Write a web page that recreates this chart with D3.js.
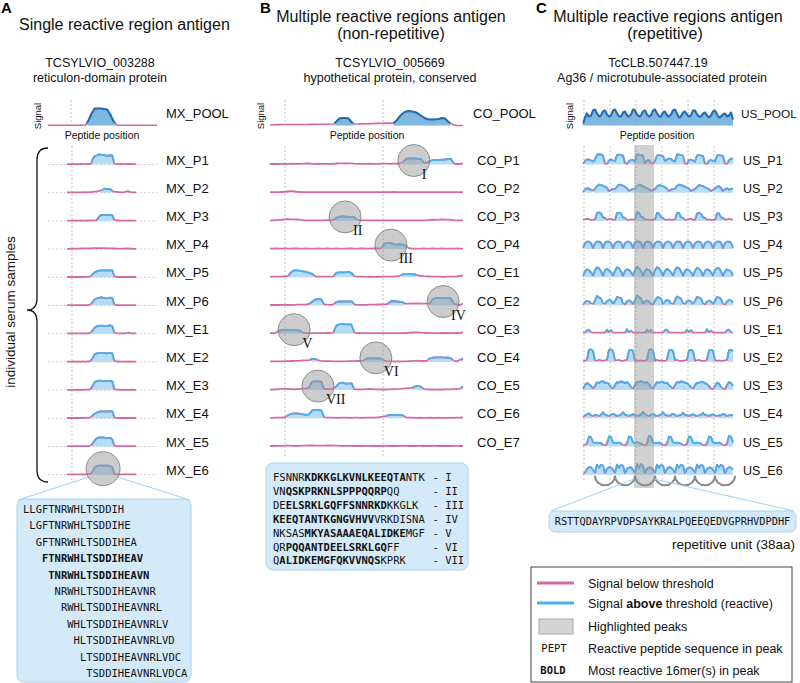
<!DOCTYPE html>
<html><head><meta charset="utf-8">
<script src="https://cdn.jsdelivr.net/npm/d3@7"></script>
<style>body{margin:0;background:#fff}svg{display:block}</style>
</head><body>
<svg id="fig" width="800" height="683"></svg>
<script>
// ---------------- DATA ----------------
const mxLabels = ["MX_P1","MX_P2","MX_P3","MX_P4","MX_P5","MX_P6","MX_E1","MX_E2","MX_E3","MX_E4","MX_E5","MX_E6"];
const mxPool = [0.3,0.3,0.3,0.3,0.3,0.3,0.3,0.3,0.3,0.3,0.3,0.3,0.5,5,12,17,17,17,16.5,16,11,4.5,0.5,0.3,0.3,0.3,0.3,0.3,0.3,0.3,0.3,0.3,0.3,0.3,0.3,0.3];
const mxSamples = [
 [0.3,0.4,0.3,0.5,0.4,0.3,0.4,0.5,0.4,0.3,0.4,0.5,0.6,5,8.5,9,10,10,9.5,9.5,8.7,9,9.2,9,1,0.4,0.3,0.5,0.4,0.3,0.4,0.5,0.6,0.5,0.4,0.3],
 [0.3,0.3,0.4,0.3,0.4,0.3,0.4,0.3,0.4,0.5,0.4,0.5,0.6,0.8,1,1.2,1.5,2,3,4,3.5,3.8,3.5,1.5,1,0.8,0.6,0.5,0.4,0.5,1,1.5,0.8,0.5,0.4,0.3],
 [0.3,0.3,0.3,0.4,0.3,0.3,0.3,0.4,0.3,0.3,0.4,0.3,0.4,0.5,0.5,0.6,3.5,5.5,6,6,5.8,6,6,5.5,1,0.5,0.4,0.3,0.3,0.3,0.3,0.3,0.4,0.3,0.3,0.3],
 [0.3,0.3,0.3,0.4,0.4,0.5,0.5,0.6,0.6,0.7,0.7,0.8,0.8,0.9,0.9,1,1,1,0.9,0.9,0.8,0.8,0.8,0.7,0.6,0.5,0.5,0.4,0.4,0.5,0.7,0.6,0.5,0.4,0.3,0.3],
 [0.3,0.3,0.3,0.3,0.3,0.3,0.3,0.3,0.3,0.4,0.4,0.5,1,3,5,6,6.5,7,7,7,7,6.8,7,7,1,0.4,0.3,0.3,0.3,0.3,0.3,0.3,0.3,0.3,0.3,0.3],
 [0.3,0.3,0.3,0.3,0.4,0.3,0.3,0.4,0.3,0.4,0.4,0.5,1,3.5,6,7,7.5,8,8,7.5,7,7.5,8,7.5,1,0.5,0.4,0.3,0.3,0.3,0.3,0.3,0.3,0.3,0.3,0.3],
 [0.3,0.3,0.3,0.3,0.3,0.3,0.4,0.3,0.3,0.4,0.4,0.5,1,3.5,6,7.5,7.5,8,8,7.5,7.5,8,8.5,7.5,1,0.5,0.4,0.3,0.3,0.3,0.5,1.2,0.6,0.3,0.3,0.3],
 [0.3,0.3,0.3,0.4,0.3,0.3,0.3,0.3,0.4,0.3,0.4,0.5,1,4,7.5,8.5,9,9,9,8.8,8.5,8.8,9,8.5,1,0.5,0.4,0.3,0.3,0.3,0.3,0.4,0.3,0.3,0.3,0.3],
 [0.3,0.3,0.3,0.3,0.3,0.4,0.3,0.3,0.3,0.4,0.4,0.5,1,4,8,9,9.5,9.5,9,9,9,9,9.2,8.5,1,0.5,0.4,0.3,0.3,0.3,0.3,0.3,0.3,0.4,0.3,0.3],
 [0.3,0.3,0.3,0.3,0.3,0.3,0.3,0.3,0.3,0.4,0.4,0.5,1,3,4.5,5.5,6.5,7,7,7,6.8,7,7.2,7,1,0.4,0.3,0.3,0.3,0.3,0.3,0.3,0.3,0.3,0.3,0.3],
 [0.3,0.3,0.3,0.3,0.3,0.3,0.3,0.3,0.3,0.4,0.4,0.5,1,3,6,8,9,9,9,8.8,8.5,8.5,8.5,7,1,0.4,0.3,0.3,0.3,0.3,0.3,0.3,0.3,0.3,0.3,0.3],
 [0.3,0.3,0.3,0.3,0.3,0.3,0.3,0.3,0.3,0.4,0.4,0.5,1,3.5,7,8.5,9,9,9,9,9,9,8.5,7.5,1,0.4,0.3,0.3,0.3,0.3,0.3,0.3,0.3,0.3,0.3,0.3]
];
const mxGrid = [2.5];
const mxPoolGrid = [7.4];
const mxPeak = {row: 11, at: 18.3};
const mxSeqs = ["LLGFTNRWHLTSDDIH","LGFTNRWHLTSDDIHE","GFTNRWHLTSDDIHEA","FTNRWHLTSDDIHEAV","TNRWHLTSDDIHEAVN","NRWHLTSDDIHEAVNR","RWHLTSDDIHEAVNRL","WHLTSDDIHEAVNRLV","HLTSDDIHEAVNRLVD","LTSDDIHEAVNRLVDC","TSDDIHEAVNRLVDCA"];
const mxSeqBold = [false,false,false,true,true,false,false,false,false,false,false];

const coLabels = ["CO_P1","CO_P2","CO_P3","CO_P4","CO_E1","CO_E2","CO_E3","CO_E4","CO_E5","CO_E6","CO_E7"];
const coPool = [0.8,0.8,0.9,0.9,1,1,1,1,1,1, 1,1,1,1.1,1.1,1.2,1.2,1.2,1.3,1.3, 1.3,1.5,4,7,7.5,7.5,7,3.5,1.5,1.5, 1.6,1.7,1.8,1.9,2,2.1,2.2,2.3,2.4,2.4, 2.4,2.4,5,9,12,14,14.5,14,13.5,12, 10,8,6.5,6,6,6.2,6.5,7.5,7,4, 2,0.5,0,0,0];
const coSamples = [
 [0.5,0.6,0.5,0.7,0.6,0.5,0.6,0.8,0.7,0.6, 0.7,0.8,1.2,1,0.7,0.6,0.5,0.6,0.7,0.6, 0.6,0.7,1,1.2,1.1,1,1.2,1.1,0.8,0.7, 0.6,0.6,0.7,0.8,0.7,0.6,0.7,0.8,0.9,0.8, 0.7,0.8,0.9,1,2,5.5,6,6,6,5.5, 5.5,2,1.5,3.5,4.5,4.5,4.5,4.8,5,5.5, 5.5,1,0.5,0.5,1],
 [0.5,0.5,0.6,0.6,0.7,0.8,1.2,1.6,1.2,0.8, 0.7,0.6,0.6,0.5,0.5,0.6,0.6,0.5,0.5,0.6, 0.5,0.5,0.6,0.6,0.5,0.5,0.5,0.6,0.5,0.5, 0.5,0.6,0.5,0.5,0.6,0.6,0.5,0.5,0.6,0.6, 0.6,0.7,0.6,0.5,0.5,0.6,0.5,0.5,0.6,0.6, 0.5,0.5,0.6,0.5,0.5,0.5,0.6,0.5,0.5,0.5, 0.5,0.5,0.6,0.6,0.5],
 [0.5,0.6,0.8,1,1.3,1.6,1.7,1.5,1.6,1.4, 1,0.7,0.6,0.5,0.5,0.6,0.6,0.5,0.6,0.7, 0.8,1,3,4.3,4.5,4.3,4,4,3.5,1, 0.7,0.6,0.5,0.6,0.5,0.5,0.6,0.6,0.5,0.5, 0.6,0.5,0.5,0.6,0.5,0.5,0.5,0.6,0.5,0.5, 0.6,0.5,0.7,1,1.3,1.1,1.3,1.4,1.2,1.3, 1,0.7,0.6,0.5,0.5],
 [0.5,0.5,0.6,0.5,0.5,0.6,0.5,0.5,0.6,0.6, 0.5,0.5,0.6,0.5,0.5,0.5,0.6,0.5,0.5,0.6, 0.5,0.5,0.6,0.5,0.5,0.5,0.6,0.6,0.5,0.5, 0.6,0.6,0.5,0.5,0.6,0.6,0.7,1,5.5,6, 6,5,4.5,5,4.5,3.5,1,0.6,0.5,0.5, 0.5,0.6,0.5,0.5,0.6,0.5,0.5,0.6,0.5,0.5, 0.5,0.5,0.6,0.5,0.5],
 [0.5,0.6,0.6,0.7,0.8,1,1.5,5,7,7, 6.5,6,5.5,4.5,3.5,1,0.7,0.6,0.6,0.6, 0.7,1,4.5,5,5,5,5.5,4.5,1,0.7, 0.6,0.6,0.5,0.6,0.5,0.5,0.6,0.5,0.6,0.6, 0.7,0.8,1,1.5,3,3.2,3.2,3.2,3,1.8, 1.5,1.2,1,0.8,0.7,0.6,0.6,0.5,0.5,0.6, 0.6,0.7,0.8,1.5,2],
 [0.5,0.5,0.6,0.5,0.6,0.6,0.5,0.6,0.7,0.8, 0.8,0.9,1,1.5,4,6,6.5,6,1,0.8, 0.7,1,3.5,4,4,4,4,4.3,1,0.7, 0.6,0.6,0.7,0.8,0.8,0.9,1,1,1.2,1.5, 4,4.5,4,3.5,3.3,1.8,1.8,1.9,2,2, 1.8,1.9,1.8,2,6.5,7.5,7.5,7.5,7.5,7.5, 7,1.5,1,0.5,2],
 [0.5,0.6,1,3,3.5,3.5,3.5,3.6,3.6,3.4, 3,1,0.7,0.6,0.5,0.6,0.5,0.6,0.6,0.7, 0.8,1,8,9.5,9.5,9.3,9.3,9,1,0.6, 0.5,0.5,0.6,0.5,0.6,0.6,0.5,0.6,0.5,0.5, 0.6,0.5,0.5,0.6,0.6,0.7,0.8,1.2,1.3,1.2, 1,0.8,0.7,0.6,0.6,0.5,0.6,0.7,0.8,0.7, 0.6,0.6,0.7,0.8,1.2],
 [0.5,0.5,0.6,0.5,0.6,0.7,0.8,0.9,1,1, 1.2,1.5,1.5,1.8,3,3,1.5,1,0.8,0.7, 0.7,0.6,0.6,0.5,0.6,0.6,0.7,0.7,0.8,0.9, 1,1.2,3.3,3.5,3.5,3.5,3.4,3.3,1,0.7, 0.6,0.6,0.5,0.5,0.6,0.6,0.7,0.8,1,1.2, 1.1,0.9,1,3.5,4.3,4.5,4.5,4.5,4.3,4.5, 3.5,1,0.5,2,3.2],
 [0.5,0.6,0.8,1,1.2,1.2,1,0.9,0.8,1, 1.2,1.4,1.5,3,8.5,8.7,8.7,8.5,1,1.2, 1,1.5,4,7,7.5,6.5,6.5,7,1,0.8, 0.7,0.8,1,1.2,1,0.8,0.7,0.6,0.6,0.7, 0.8,0.9,1,1.2,1.5,1.8,2,2.2,3.5,4.3, 3.5,1,0.7,0.6,0.6,0.5,0.6,0.6,0.7,0.8, 0.8,0.9,1,1.5,3.3],
 [0.5,0.5,0.6,0.7,0.8,1,3,4.5,5,5, 4.5,4,3.5,4,8,8.5,8.3,8,1,0.7, 0.6,0.6,0.5,0.5,0.6,0.6,0.5,0.5,0.6,0.6, 0.5,0.5,0.6,0.6,0.7,0.8,1,1.5,2,3, 3.5,3.5,3.5,3.5,3,1,0.7,0.6,0.5,0.5, 0.6,0.5,0.5,0.6,0.5,0.5,0.6,0.5,0.5,0.5, 0.5,0.5,0.6,0.6,0.8],
 [0.5,0.5,0.6,0.6,0.7,0.8,0.8,0.7,0.6,0.6, 0.7,0.8,0.9,1,1,0.9,0.8,0.8,0.9,1, 1,0.9,0.8,0.7,0.7,0.6,0.6,0.6,0.5,0.5, 0.5,0.5,0.6,0.6,0.5,0.5,0.5,0.5,0.6,0.6, 0.5,0.5,0.5,0.6,0.6,0.6,0.5,0.5,0.5,0.6, 0.6,0.5,0.5,0.5,0.6,0.6,0.5,0.5,0.5,0.5, 0.5,0.6,0.6,0.5,0.5]
];
const coGrid = [5, 37.5];
const coPeaks = [
 {row:0, at:47.7, label:"I"}, {row:2, at:24.9, label:"II"}, {row:3, at:40.1, label:"III"},
 {row:5, at:57.4, label:"IV"}, {row:6, at:8, label:"V"}, {row:7, at:35.1, label:"VI"}, {row:8, at:15.9, label:"VII"}
];
const coSeqPre  = ["FSNNR","VN","DE","","NKSAS","QR","Q"];
const coSeqBold = ["KDKKGLKVNLKEEQTA","QSKPRKNLSPPPQQRP","ELSRKLGQFFSNNRKD","KEEQTANTKGNGVHVV","MKYASAAAEQALIDKE","PQQANTDEELSRKLGQ","ALIDKEMGFQKVVNQS"];
const coSeqPost = ["NTK","QQ","KKGLK","VRKDISNA","MGF","FF","KPRK"];
const coSeqNum  = ["I","II","III","IV","V","VI","VII"];

const usLabels = ["US_P1","US_P2","US_P3","US_P4","US_P5","US_P6","US_E1","US_E2","US_E3","US_E4","US_E5","US_E6"];
const usPool = [1,8,12,9,10,15,16,12,9,10, 14,15,11,9,10,15,16,12,9,9, 13,14,10,9,11,16,15,11,9,10, 14,15,11,9,10,15,16,12,9,9, 13,14,10,9,11,15,16,12,8,9, 13,14,11,9,10,15,15,11,9,9, 12,13,10,8,10,14,15,11,8,9, 11,12,9,10,13,6];
const usSamples = [
 [0.5,3.5,5,5,4,3,5,10,10,10, 9,1,0.5,4,5,4,3.5,9.5,10,9.5, 9,1.5,0.5,3.5,4.5,4.5,3,10,10,9, 9,1,4,4.5,1,1,3.5,9,9.5,9, 8.5,3.5,5,6,5.5,3.5,3,10,10,9.5, 9,1,0.5,4.5,5,4,3,9,9.5,9, 8.5,1,0.5,4,4.5,3.5,3,9,9.5,9, 8.5,1,0.5,4,6,5],
 [0.5,3.5,4.5,4,3,2,4,6.5,8,7.5, 7,6,5,1.5,3,3.5,3.5,6,8,7.5, 7,6,4.5,1.5,3,3.5,4,7,8,7.5, 6.5,5.5,4.5,3.5,1.5,3,3.5,6.5,7.5,7, 6.5,5.5,4,1.5,3,3.5,4,7,8,7.5, 7,6,5,4,1.5,3,3.5,6,7.5,7, 6.5,5.5,4.5,3.5,1.5,3,4,6,6.5,5, 1.5,3.5,4.5,3,4,3.5],
 [1,1.5,2,1.5,1,1,1.5,8,8.5,7.5, 3.5,3,1,1.5,2,1,1,8,8,7.5, 3.5,3,1,1,1.5,1,1.5,8.5,8,4, 3.5,1,1.5,1,1,1,1.5,8,7.5,3.5, 3,1,1,1.5,1,1,1.5,8,8,3.5, 3,1,1,1.5,2,1,1,7.5,8,7, 3.5,3,1,1.5,1,1,1,7.5,7.5,3.5, 3,1,1.5,2,1.5,1],
 [1,6,7.5,7.5,6,1,6,7.5,7.5,6.5, 1,6.5,7.5,7.5,6,1,6,7.5,7.5,6.5, 1,6,7.5,7.5,6,1,6.5,7.5,7.5,6.5, 1,6.5,7.5,7.5,6,1,6,7.5,7.5,6.5, 1,6,7.5,7.5,6,1,6,7.5,7.5,6.5, 1,6,7.5,7.5,6,1,6,7.5,7.5,6.5, 1,6,7.5,7.5,6,1,6,7.5,7.5,6.5, 1,6,7.5,7.5,6.5,1],
 [1,6,8,7,5,1.5,7,10,9,6, 1.5,7,8.5,7,5,1.5,6.5,10,9,6, 1.5,6.5,8,7.5,5,1.5,7,10.5,9,6.5, 1.5,6.5,8,7,5,1.5,7,10,9,6, 1.5,6.5,8.5,7,5,1.5,7,10,9,6, 1.5,6.5,8,7,5,1.5,6.5,9.5,8.5,6, 1.5,6.5,8,7.5,5,1.5,7,9.5,9,6, 1.5,6,8,7,6,1.5],
 [0.5,3.5,4.5,4,2,1.5,5,9.5,8,7, 2,1.5,4.5,5.5,5,2,4,8.5,8,7.5, 2,1,4.5,5,4,1.5,5,10,8.5,7, 2,4,5,4,1.5,1,4.5,8,8,7, 1.5,4,5.5,5,2,1.5,5,9,8,7, 2,1.5,4.5,5,4,1.5,4.5,8.5,8,7, 2,1,4,5,4,1.5,4.5,8.5,8,6.5, 1.5,1,4,5.5,5,3],
 [1,1,3.5,4,1.5,1,1,1,1,1, 1,1,4,1.5,3.5,1,1,1,1,1, 1,1,4.5,1.5,3,1,1,1,1,1, 1,1,4,1.5,3.5,1,1,1,1,1, 1,3.5,4,1,1,1,1,1,1,1, 1,1,4,1.5,3.5,1,1,1,1,1, 1,1,4.5,1.5,3,1,1,1,1,1, 1,1,3.5,4,1.5,1],
 [1,1,2,12,12.5,11,1.5,1,2,1.5, 1,1.5,2,12,12.5,11,1.5,1.5,2,1, 1,1.5,2,11.5,12,11,1,1.5,1,1.5, 1,1,2,12,12.5,11.5,1,2,1,1.5, 1,1,2,11.5,12,11,1.5,2,1,1, 1,1.5,2,11.5,12,11,1,1.5,2,1, 1,1,2,11.5,12,11,1.5,1,1.5,1, 1,1.5,2,11.5,12,11],
 [1,5,7,6,4,1.5,4,8,7,8.5, 9,7,7.5,6,3,1.5,5,8,7.5,9, 8,7,8,6,3,1.5,5,8.5,8,9, 8,7.5,8,6,3,1.5,5,8,7,8.5, 8,7,7.5,5,3,1.5,5,8,7.5,9, 8,7.5,7,5,3,1.5,5,7.5,7,8.5, 8,7,6,4,1.5,1,4,7.5,6.5,3, 1.5,1,5,8,7,4],
 [1,3,4,5,3,2,3.5,3,2,3.5, 6,3.5,3,2,3.5,4.5,3.5,2,3,3.5, 6,3.5,3,2,3.5,4,3.5,2,3,3.5, 6.5,4,3,2,3.5,4.5,3,2,3,3.5, 6,3.5,3,2,3.5,4.5,3.5,2,3,3.5, 5.5,3.5,3,2,3.5,4,3,2,3,3.5, 5.5,3.5,3,2,3.5,4,3,2,3,3, 4.5,3.5,2,3,3.5,3],
 [1,1.5,3,10,9.5,4,3.5,4,3.5,3.5, 1.5,1,3,10,9.5,4,3.5,3.5,4,3, 1.5,1,3,10,9.5,4,3.5,4.5,3.5,3, 1.5,1,3,10.5,10,4,3.5,3.5,4,3, 1.5,1,3,10,9.5,4,3.5,4,3.5,3, 1.5,1,3,10,9.5,4,3.5,4,3.5,3, 1.5,1,3,10,9.5,4,3.5,3.5,4,3, 1.5,1,3,10.5,10,4],
 [1,2,6,7.5,7.5,5,2,10,7,10, 9,1.5,6,7.5,7,5,2,10,7,10, 9,1.5,6,7,7.5,5,2,10.5,7,10.5, 9,1.5,6,7,7,5,2,10,7,10, 9,1.5,6,7.5,7,5,2,10,7,10, 9,1.5,6,7,7,5,2,10,7,10, 9,1.5,6,7,7,5,2,10,7.5,10, 8.5,1.5,6,7.5,7,5]
];
const usGrid = [0.5, 13.5, 26.5, 39.5, 52.5, 65.5];
const usBand = [25.5, 35.5];
const usUnitStarts = [6, 16, 26, 36, 46, 56, 66];
const usUnitLen = 10;
const usRepeatSeq = "RSTTQDAYRPVDPSAYKRALPQEEQEDVGPRHVDPDHF";

const legendItems = ["Signal below threshold", "Signal above threshold (reactive)", "Highlighted peaks", "Reactive peptide sequence in peak", "Most reactive 16mer(s) in peak"];

// ---------------- DRAW ----------------
const SANS = "'Liberation Sans', Arial, sans-serif";
const MONO = "'DejaVu Sans Mono', monospace";
const SERIF = "'Liberation Serif', 'Times New Roman', serif";
const PINK = "#d46aa3", BLUE = "#4ab0e8", BFILL = "#b5ddf6", DBLUE = "#1f6eb5", DFILL = "#6aafdc";
const THR = 2.5;
const svg = d3.select("#fig");
const rowBase = d3.scaleLinear().domain([0, 11]).range([164.5, 474.7]);
const POOL_BASE = 125.5;
const amp = d3.scaleLinear().domain([0, 10]).range([0, 10]);

const xA = d3.scaleLinear().domain([0, 35]).range([67, 136]);
const xApool = d3.scaleLinear().domain([0, 35]).range([48, 157]);
const xB = d3.scaleLinear().domain([0, 64]).range([270, 463]);
const xC = d3.scaleLinear().domain([0, 75]).range([583, 733]);

function txt(g, x, y, s, size, opts = {}) {
  const t = g.append("text").attr("x", x).attr("y", y).text(s)
    .attr("font-family", opts.family || SANS).attr("font-size", size)
    .attr("fill", opts.fill || "#111")
    .attr("text-anchor", opts.anchor || "start");
  if (opts.weight) t.attr("font-weight", opts.weight);
  return t;
}

function drawTrace(g, vals, x, base, pool) {
  const y = v => base - amp(v);
  const pts = vals.map((v, i) => [x(i), y(v)]);
  const runs = []; let cur = null;
  for (let i = 0; i < vals.length; i++) {
    const v = vals[i];
    if (v >= THR) {
      if (!cur) {
        cur = [];
        if (i > 0) { const v0 = vals[i-1]; const t = (THR - v0) / (v - v0); cur.push([x(i-1) + t * (x(i) - x(i-1)), y(THR)]); }
      }
      cur.push([x(i), y(v)]);
    } else if (cur) {
      const v0 = vals[i-1]; const t = (THR - v0) / (v - v0);
      cur.push([x(i-1) + t * (x(i) - x(i-1)), y(THR)]);
      runs.push(cur); cur = null;
    }
  }
  if (cur) runs.push(cur);
  const area = d3.area().x(d => d[0]).y0(base).y1(d => d[1]);
  const line = d3.line();
  if (pool) g.append("path").attr("d", area(pts)).attr("fill", PINK).attr("opacity", 0.18);
  runs.forEach(r => g.append("path").attr("d", area(r)).attr("fill", pool ? DFILL : BFILL).attr("opacity", pool ? 0.85 : 1));
  g.append("path").attr("d", line(pts)).attr("fill", "none").attr("stroke", PINK).attr("stroke-width", pool ? 1.6 : 1.8).attr("stroke-linejoin", "round");
  runs.forEach(r => g.append("path").attr("d", line(r)).attr("fill", "none").attr("stroke", pool ? DBLUE : BLUE).attr("stroke-width", pool ? 2 : 1.8).attr("stroke-linejoin", "round"));
}

function vgrid(g, xs, x, y0, y1) {
  g.selectAll(null).data(xs).enter().append("line")
    .attr("x1", d => x(d)).attr("x2", d => x(d)).attr("y1", y0).attr("y2", y1)
    .attr("stroke", "#bdbdbd").attr("stroke-width", 0.9).attr("stroke-dasharray", "2,2");
}

function poolAxisText(g, cx, sx) {
  txt(g, 0, 0, "Signal", 9.5, {anchor: "middle"}).attr("transform", `translate(${sx},${116}) rotate(-90)`);
  txt(g, cx, 139, "Peptide position", 10.5, {anchor: "middle"});
}

const LAB = 13, LABC = 12.5, SUB = 12.5, TITLE = 16;
// panel letters
txt(svg, 1, 13, "A", 15, {weight: "bold", fill: "#000"});
txt(svg, 260, 13, "B", 15, {weight: "bold", fill: "#000"});
txt(svg, 536, 13, "C", 15, {weight: "bold", fill: "#000"});

// ---------- Panel A ----------
const gA = svg.append("g");
txt(gA, 19, 30, "Single reactive region antigen", TITLE);
txt(gA, 100, 67, "TCSYLVIO_003288", SUB, {anchor: "middle"});
txt(gA, 100, 82, "reticulon-domain protein", SUB, {anchor: "middle"});
vgrid(gA, mxPoolGrid, xApool, 100, POOL_BASE);
drawTrace(gA, mxPool, xApool, POOL_BASE, true);
poolAxisText(gA, 102, 41);
txt(gA, 166, 117.5, "MX_POOL", LAB);
vgrid(gA, mxGrid, xA, 146, 482);
mxLabels.forEach((lab, r) => {
  const b = rowBase(r);
  gA.append("line").attr("x1", 48).attr("x2", 157).attr("y1", b).attr("y2", b)
    .attr("stroke", "#c8c8c8").attr("stroke-width", 0.9).attr("stroke-dasharray", "2,2");
  drawTrace(gA, mxSamples[r], xA, b, false);
  txt(gA, 166, b, lab, LAB);
});
// brace
gA.append("path").attr("d", "M48,148 Q37,148 37,160 L37,298 Q37,310 27,310 Q37,310 37,322 L37,470 Q37,482 48,482")
  .attr("fill", "none").attr("stroke", "#111").attr("stroke-width", 1.3);
txt(gA, 0, 0, "individual serum samples", 13.5, {anchor: "middle"}).attr("transform", "translate(15,312) rotate(-90)");
// peak circle + zoom box
{
  const cx = xA(mxPeak.at), cy = rowBase(mxPeak.row) - 6, r = 17;
  gA.append("line").attr("x1", cx - r * 0.87).attr("y1", cy + r * 0.5).attr("x2", 18).attr("y2", 500).attr("stroke", "#9fd0ef").attr("stroke-width", 1);
  gA.append("line").attr("x1", cx + r * 0.87).attr("y1", cy + r * 0.5).attr("x2", 190).attr("y2", 500).attr("stroke", "#9fd0ef").attr("stroke-width", 1);
  gA.append("circle").attr("cx", cx).attr("cy", cy).attr("r", r).attr("fill", "#9a9a9a").attr("fill-opacity", 0.5).attr("stroke", "#7a7a7a").attr("stroke-width", 0.8);
  gA.append("rect").attr("x", 17).attr("y", 499).attr("width", 174).attr("height", 183).attr("rx", 7)
    .attr("fill", "#d5eaf8").attr("stroke", "#a5d2ef").attr("stroke-width", 1);
  mxSeqs.forEach((s, i) => {
    txt(gA, 23 + i * 6.32, 513 + i * 16.4, s, 10.5, {family: MONO, weight: mxSeqBold[i] ? "bold" : null, fill: "#111"});
  });
}

// ---------- Panel B ----------
const gB = svg.append("g");
txt(gB, 391, 22, "Multiple reactive regions antigen", TITLE, {anchor: "middle"});
txt(gB, 391, 39, "(non-repetitive)", TITLE, {anchor: "middle"});
txt(gB, 390, 67, "TCSYLVIO_005669", SUB, {anchor: "middle"});
txt(gB, 390, 82, "hypothetical protein, conserved", SUB, {anchor: "middle"});
vgrid(gB, coGrid, xB, 100, POOL_BASE);
drawTrace(gB, coPool, xB, POOL_BASE, true);
poolAxisText(gB, 367, 264);
txt(gB, 473, 117.5, "CO_POOL", LAB);
vgrid(gB, coGrid, xB, 146, 456);
coLabels.forEach((lab, r) => {
  const b = rowBase(r);
  drawTrace(gB, coSamples[r], xB, b, false);
  txt(gB, 477, b, lab, LAB);
});
coPeaks.forEach(p => {
  const cx = xB(p.at), cy = rowBase(p.row) - 4, r = 16;
  gB.append("circle").attr("cx", cx).attr("cy", cy).attr("r", r).attr("fill", "#9a9a9a").attr("fill-opacity", 0.5).attr("stroke", "#7a7a7a").attr("stroke-width", 0.8);
  txt(gB, cx + 8, cy + 18, p.label, 14, {family: SERIF, fill: "#111"});
});
gB.append("rect").attr("x", 266).attr("y", 463).attr("width", 202).attr("height", 107).attr("rx", 7)
  .attr("fill", "#d5eaf8").attr("stroke", "#a5d2ef").attr("stroke-width", 1);
coSeqBold.forEach((bold, i) => {
  const y = 481 + i * 13.9;
  const t = txt(gB, 273, y, "", 10.5, {family: MONO});
  t.append("tspan").text(coSeqPre[i]);
  t.append("tspan").attr("font-weight", "bold").text(bold);
  t.append("tspan").text(coSeqPost[i]);
  txt(gB, 432.5, y, "- " + coSeqNum[i], 10.5, {family: MONO});
});

// ---------- Panel C ----------
const gC = svg.append("g");
txt(gC, 668, 22, "Multiple reactive regions antigen", TITLE, {anchor: "middle"});
txt(gC, 665, 39, "(repetitive)", TITLE, {anchor: "middle"});
txt(gC, 658, 67, "TcCLB.507447.19", SUB, {anchor: "middle"});
txt(gC, 662, 82, "Ag36 / microtubule-associated protein", SUB, {anchor: "middle"});
vgrid(gC, usGrid, xC, 100, POOL_BASE);
drawTrace(gC, usPool, xC, POOL_BASE, true);
poolAxisText(gC, 657, 573);
txt(gC, 741, 117.5, "US_POOL", 11.8);
vgrid(gC, usGrid, xC, 146, 482);
usLabels.forEach((lab, r) => {
  const b = rowBase(r);
  drawTrace(gC, usSamples[r], xC, b, false);
  txt(gC, 743, b, lab, LABC);
});
// highlight band
gC.append("rect").attr("x", xC(usBand[0])).attr("width", xC(usBand[1]) - xC(usBand[0]))
  .attr("y", 145).attr("height", 343).attr("fill", "#9a9a9a").attr("fill-opacity", 0.45);
// repeat arcs
{
  const b = rowBase(11) + 1;
  usUnitStarts.forEach(s => {
    const x1 = xC(s), x2 = xC(s + usUnitLen), rr = (x2 - x1) / 2;
    gC.append("path").attr("d", `M${x1},${b} A${rr},${rr * 0.95} 0 0 0 ${x2},${b}`)
      .attr("fill", "none").attr("stroke", "#8a8a8a").attr("stroke-width", 2);
  });
  gC.append("line").attr("x1", xC(usBand[0])).attr("y1", 479).attr("x2", 551).attr("y2", 511).attr("stroke", "#9fd0ef").attr("stroke-width", 1);
  gC.append("line").attr("x1", xC(usBand[1])).attr("y1", 479).attr("x2", 794).attr("y2", 511).attr("stroke", "#9fd0ef").attr("stroke-width", 1);
  gC.append("rect").attr("x", 549).attr("y", 511).attr("width", 247).attr("height", 21).attr("rx", 6)
    .attr("fill", "#d5eaf8").attr("stroke", "#a5d2ef").attr("stroke-width", 1);
  txt(gC, 672.5, 525, usRepeatSeq, 10.3, {family: MONO, anchor: "middle"});
  txt(gC, 795, 549, "repetitive unit (38aa)", 13.5, {anchor: "end"});
}

// ---------- Legend ----------
const gL = svg.append("g");
gL.append("rect").attr("x", 531).attr("y", 567).attr("width", 261).attr("height", 115)
  .attr("fill", "#fff").attr("stroke", "#444").attr("stroke-width", 1);
const ly = [583, 603, 626, 648, 670];
gL.append("line").attr("x1", 537).attr("x2", 574).attr("y1", ly[0]).attr("y2", ly[0]).attr("stroke", PINK).attr("stroke-width", 3);
gL.append("line").attr("x1", 537).attr("x2", 574).attr("y1", ly[1]).attr("y2", ly[1]).attr("stroke", BLUE).attr("stroke-width", 3);
gL.append("rect").attr("x", 539).attr("y", ly[2] - 7).attr("width", 34).attr("height", 15).attr("fill", "#d4d4d4").attr("stroke", "#aaa").attr("stroke-width", 1);
txt(gL, 554, ly[3] + 4, "PEPT", 10.5, {family: MONO, anchor: "middle"});
txt(gL, 553, ly[4] + 4, "BOLD", 10.5, {family: MONO, anchor: "middle", weight: "bold"});
legendItems.forEach((s, i) => {
  const t = txt(gL, 588, ly[i] + 4.5, "", 12.5);
  if (i === 1) {
    t.append("tspan").text("Signal ");
    t.append("tspan").attr("font-weight", "bold").text("above");
    t.append("tspan").text(" threshold (reactive)");
  } else t.text(s);
});
</script>
</body></html>
